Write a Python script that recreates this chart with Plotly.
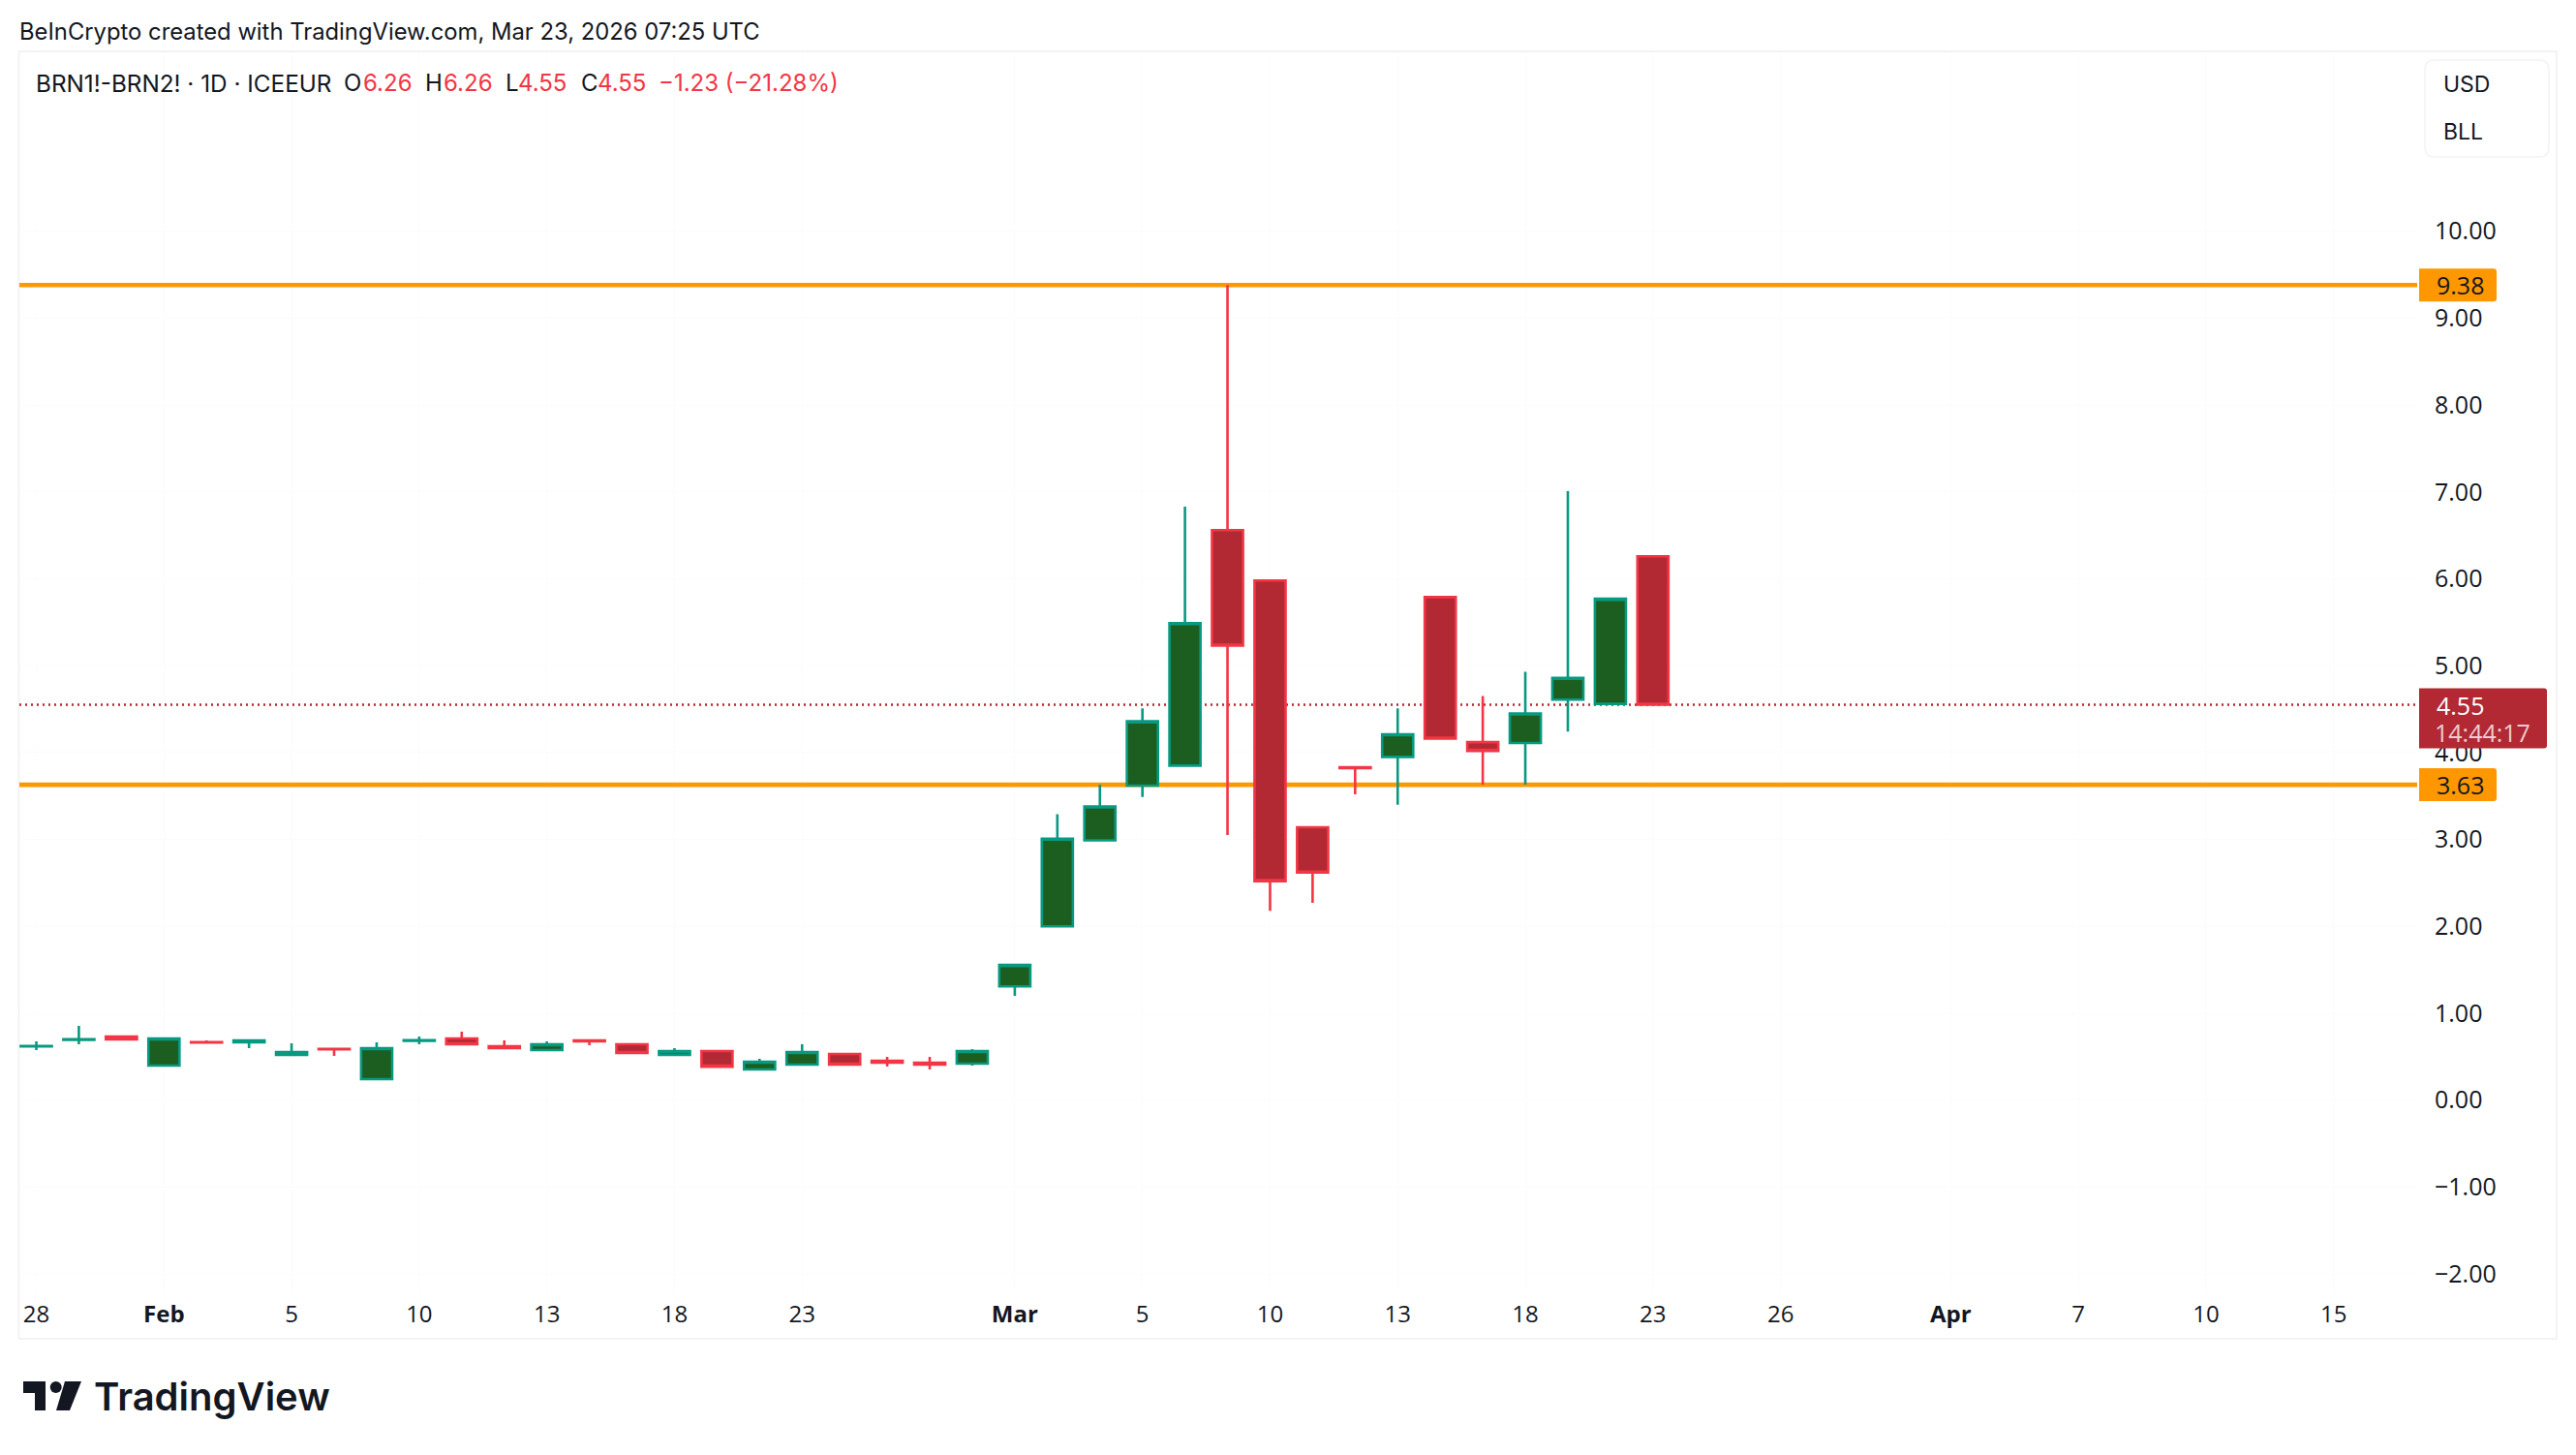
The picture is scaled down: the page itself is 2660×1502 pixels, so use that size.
import plotly.graph_objects as go

W, H = 2660, 1502
FONT = "Inter"
NUMFONT = "Open Sans"
INK = "#131722"

# ---- data ----
dates = ["2026-01-28","2026-01-29","2026-01-30","2026-02-02","2026-02-03","2026-02-04","2026-02-05","2026-02-06",
         "2026-02-09","2026-02-10","2026-02-11","2026-02-12","2026-02-13","2026-02-16","2026-02-17","2026-02-18",
         "2026-02-19","2026-02-20","2026-02-23","2026-02-24","2026-02-25","2026-02-26","2026-02-27","2026-03-02",
         "2026-03-03","2026-03-04","2026-03-05","2026-03-06","2026-03-09","2026-03-10","2026-03-11","2026-03-12",
         "2026-03-13","2026-03-16","2026-03-17","2026-03-18","2026-03-19","2026-03-20","2026-03-23"]
future_dates = ["2026-03-24","2026-03-25","2026-03-26","2026-03-27","2026-03-30","2026-03-31","2026-04-01",
                "2026-04-02","2026-04-06","2026-04-07","2026-04-08","2026-04-09","2026-04-10","2026-04-13",
                "2026-04-14","2026-04-15"]
opens  = [0.618,0.695,0.732,0.398,0.668,0.665,0.520,0.590,0.242,0.683,0.710,0.621,0.576,0.687,0.643,0.520,0.565,
          0.353,0.409,0.531,0.453,0.431,0.420,1.31,2.00,2.99,3.62,3.85,6.56,5.98,3.14,3.83,3.95,5.79,4.12,4.11,
          4.61,4.56,6.26]
highs  = [0.676,0.855,0.732,0.710,0.687,0.687,0.654,0.590,0.665,0.732,0.788,0.687,0.676,0.687,0.643,0.598,0.565,
          0.476,0.643,0.531,0.498,0.498,0.587,1.556,3.29,3.63,4.51,6.83,9.38,5.98,3.14,3.83,4.51,5.79,4.65,4.93,
          7.01,5.77,6.26]
lows   = [0.576,0.643,0.699,0.398,0.662,0.598,0.520,0.509,0.242,0.643,0.643,0.598,0.576,0.632,0.543,0.520,0.386,
          0.353,0.409,0.409,0.386,0.353,0.398,1.20,2.00,2.99,3.49,3.85,3.05,2.18,2.27,3.52,3.40,4.15,3.63,3.63,
          4.24,4.56,4.55]
closes = [0.624,0.700,0.699,0.710,0.662,0.687,0.554,0.584,0.598,0.690,0.643,0.598,0.643,0.676,0.543,0.565,0.386,
          0.442,0.554,0.409,0.431,0.409,0.565,1.556,3.01,3.38,4.36,5.49,5.23,2.52,2.62,3.82,4.21,4.16,4.02,4.45,
          4.86,5.77,4.55]
level_values = [9.38, 3.63]
level_labels = ["9.38", "3.63"]
last_price = 4.55
last_label = "4.55"
countdown = "14:44:17"
price_ticks = [10, 9, 8, 7, 6, 5, 4, 3, 2, 1, 0, -1, -2]
price_tick_labels = ["10.00","9.00","8.00","7.00","6.00","5.00","4.00","3.00","2.00","1.00","0.00","\u22121.00","\u22122.00"]
time_tick_dates = ["2026-01-28","2026-02-02","2026-02-05","2026-02-10","2026-02-13","2026-02-18","2026-02-23",
                   "2026-03-02","2026-03-05","2026-03-10","2026-03-13","2026-03-18","2026-03-23","2026-03-26",
                   "2026-04-01","2026-04-07","2026-04-10","2026-04-15"]
time_tick_labels = ["28","<b>Feb</b>","5","10","13","18","23","<b>Mar</b>","5","10","13","18","23","26",
                    "<b>Apr</b>","7","10","15"]
header_text = "BeInCrypto created with TradingView.com, Mar 23, 2026 07:25 UTC"
legend_parts = [(37,"BRN1!-BRN2! \u00b7 1D \u00b7 ICEEUR",INK),(355,"O",INK),(375,"6.26","#F23645"),
                (439,"H",INK),(458,"6.26","#F23645"),(522,"L",INK),(535,"4.55","#F23645"),
                (600,"C",INK),(617,"4.55","#F23645"),(680,"\u22121.23 (\u221221.28%)","#F23645")]

# ---- geometry ----
PL, PR, PT, PB = 20, 2496, 54, 1335
PX_PER_UNIT, Y10 = 89.7, 238.7
SPACING, X0 = 43.93, 37.5
XMIN, XMAX = -(X0 - PL) / SPACING, (PR - X0) / SPACING
px = lambda x: x / W
py = lambda y: 1 - y / H
all_dates = dates + future_dates

fig = go.Figure(go.Candlestick(
    x=dates, open=opens, high=highs, low=lows, close=closes,
    increasing=dict(fillcolor="#1B5E20", line=dict(color="#089981", width=2.6)),
    decreasing=dict(fillcolor="#B22833", line=dict(color="#F23645", width=2.6)),
    whiskerwidth=0, showlegend=False, hoverinfo="skip"))

shapes, ann = [], []
def text(x, y, s, size=24, color=INK, anchor="left", weight=None, family=FONT):
    f = dict(family=family, size=size, color=color)
    if weight: f["weight"] = weight
    ann.append(dict(xref="paper", yref="paper", x=px(x), y=py(y), text=s, showarrow=False,
                    xanchor=anchor, yanchor="middle", font=f, borderpad=0, borderwidth=0))

def tag_path(w, low, high, r=3):
    return (f"M 0 {low} L {w-r} {low} Q {w} {low} {w} {low+r} L {w} {high-r} "
            f"Q {w} {high} {w-r} {high} L 0 {high} Z")

def round_rect(x0, y0, x1, y1, r):
    pts = [("M", x0 + r, y0), ("L", x1 - r, y0), ("Q", x1, y0, x1, y0 + r), ("L", x1, y1 - r),
           ("Q", x1, y1, x1 - r, y1), ("L", x0 + r, y1), ("Q", x0, y1, x0, y1 - r), ("L", x0, y0 + r),
           ("Q", x0, y0, x0 + r, y0)]
    out = []
    for p in pts:
        coords = p[1:]
        out.append(p[0] + " " + " ".join(
            f"{px(coords[i])} {py(coords[i+1])}" for i in range(0, len(coords), 2)))
    return " ".join(out) + " Z"

# frame
shapes.append(dict(type="rect", xref="paper", yref="paper", x0=px(19.5), x1=px(2640), y0=py(1382), y1=py(53),
                   line=dict(color="#F3F3F3", width=2), layer="below"))
# currency / unit box
shapes.append(dict(type="path", xref="paper", yref="paper", path=round_rect(2504, 62, 2632, 162, 10),
                   line=dict(color="#F3F3F3", width=1.5), fillcolor="white", layer="above"))
text(2523, 87, "USD", size=23)
text(2523, 136, "BLL", size=23)

# horizontal levels and price tags
for v, lab in zip(level_values, level_labels):
    shapes.append(dict(type="line", xref="x", x0=XMIN, x1=XMAX, yref="y", y0=v, y1=v,
                       line=dict(color="#FF9800", width=4.6), layer="between"))
    shapes.append(dict(type="path", xref="paper", xsizemode="pixel", xanchor=px(2498),
                       yref="y", ysizemode="pixel", yanchor=v, path=tag_path(80, -17, 17),
                       fillcolor="#FF9800", line=dict(width=0), layer="above"))
    ann.append(dict(xref="paper", yref="y", x=px(2514), y=v, text=lab, showarrow=False, xanchor="left",
                    yanchor="middle", font=dict(family=NUMFONT, size=25, color=INK)))

# current price line + tag
shapes.append(dict(type="line", xref="x", x0=XMIN, x1=XMAX, yref="y", y0=last_price, y1=last_price,
                   line=dict(color="#B22833", width=2.4, dash="2px,4px"), layer="between"))
shapes.append(dict(type="path", xref="paper", xsizemode="pixel", xanchor=px(2498),
                   yref="y", ysizemode="pixel", yanchor=last_price, path=tag_path(132, -45, 17),
                   fillcolor="#B22833", line=dict(width=0), layer="above"))
ann.append(dict(xref="paper", yref="y", x=px(2514), y=last_price, text=last_label, showarrow=False,
                xanchor="left", yanchor="middle", font=dict(family=NUMFONT, size=25, color="#FFFFFF")))
text(2514, 756, countdown, color="#EDCDD0", family=NUMFONT, size=25)

# header, legend, footer
text(20, 32, header_text, size=23.8)
for i, (x, s, c) in enumerate(legend_parts):
    text(x, 86, s, color=c, size=24.3 if i == 0 else 24)
text(97, 1441, "TradingView", size=40, weight=600)
shapes += [
    dict(type="path", xref="paper", yref="paper", fillcolor=INK, line=dict(width=0),
         path="M %f %f L %f %f L %f %f L %f %f L %f %f L %f %f Z" % (
             px(24),py(1426),px(47),py(1426),px(47),py(1456),px(36),py(1456),px(36),py(1438),px(24),py(1438))),
    dict(type="circle", xref="paper", yref="paper", fillcolor=INK, line=dict(width=0),
         x0=px(51.7), x1=px(63.7), y0=py(1438), y1=py(1426)),
    dict(type="path", xref="paper", yref="paper", fillcolor=INK, line=dict(width=0),
         path="M %f %f L %f %f L %f %f L %f %f Z" % (
             px(67),py(1426),px(84),py(1426),px(72),py(1456),px(58),py(1456))),
]

fig.update_layout(
    width=W, height=H, autosize=False, margin=dict(l=0, r=0, t=0, b=0, pad=0),
    paper_bgcolor="white", plot_bgcolor="white", boxgap=0.27, boxgroupgap=0,
    showlegend=False, dragmode=False, shapes=shapes, annotations=ann,
    font=dict(family=FONT, size=24, color=INK),
    xaxis=dict(type="category", categoryorder="array", categoryarray=all_dates,
               domain=[px(PL), px(PR)],
               range=[XMIN, XMAX],
               tickmode="array", tickvals=time_tick_dates, ticktext=time_tick_labels, tickangle=0,
               ticks="", showline=False, zeroline=False, showgrid=True, gridcolor="#FCFCFC", gridwidth=1,
               ticklabelstandoff=5, tickfont=dict(family=NUMFONT, size=24, color=INK),
               rangeslider=dict(visible=False), fixedrange=True),
    yaxis=dict(side="right", anchor="x", domain=[py(PB), py(PT)],
               range=[10 - (PB - Y10) / PX_PER_UNIT, 10 - (PT - Y10) / PX_PER_UNIT],
               tickmode="array", tickvals=price_ticks, ticktext=price_tick_labels,
               ticks="", showline=False, zeroline=False, showgrid=True, gridcolor="#FCFCFC", gridwidth=1,
               ticklabelstandoff=17, tickfont=dict(family=NUMFONT, size=25, color=INK), fixedrange=True),
)
fig.write_html("out.html", config=dict(displayModeBar=False),
               post_script="document.body.style.margin='0';document.body.style.overflow='hidden';")
